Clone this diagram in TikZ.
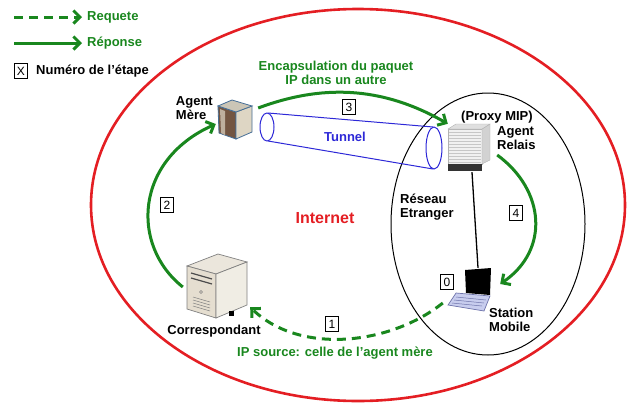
\documentclass[tikz,border=0pt]{standalone}
\usepackage{fontspec}
\setmainfont{Liberation Sans}
\usetikzlibrary{arrows.meta}
\definecolor{vert}{RGB}{25,135,30}
\definecolor{rouge}{RGB}{228,30,35}
\definecolor{bleu}{RGB}{45,40,215}
\definecolor{brun}{RGB}{115,85,65}
\definecolor{beige}{RGB}{222,214,196}
\definecolor{ecran}{RGB}{200,205,238}
\definecolor{bord}{RGB}{70,110,150}
\definecolor{clavier}{RGB}{110,115,170}
\begin{document}
\begin{tikzpicture}[x=1pt,y=-1pt,
	fleche/.style={vert,line width=3pt,-{Straight Barb[length=6.5pt,width=13pt]}},
	requete/.style={fleche,dash pattern=on 9pt off 6pt},
	numbox/.style={draw,line width=0.9pt,inner sep=0pt,minimum width=13pt,minimum height=15pt,font=\fontsize{12}{12}\selectfont},
	lbl/.style={font=\fontsize{13}{14}\selectfont\bfseries,align=left,inner sep=0pt}]
	\useasboundingbox (0,0) rectangle (627,405);
	% zones
	\draw[rouge,line width=2.6pt] (358,205) ellipse [x radius=267,y radius=196];
	\draw[line width=1pt] (488,224) ellipse [x radius=97,y radius=131];
	% tunnel
	\draw[bleu,line width=1pt] (267,127) ellipse [x radius=7,y radius=14];
	\draw[bleu,line width=1pt] (434,148) ellipse [x radius=8,y radius=21];
	\draw[bleu,line width=1pt] (268,113)--(433,127) (268,141)--(433,169);
	\node[lbl,bleu] (tunnel) at (345,137) {Tunnel};
	% equipements
	\begin{scope}[every node/.style={inner sep=0pt}]
	\node[minimum width=34pt,minimum height=38pt] (mere) at (235,120){};
	\node[minimum width=42pt,minimum height=48pt] (relais) at (469,148){};
	\node[minimum width=44pt,minimum height=44pt] (mobile) at (469,290){};
	\node[minimum width=62pt,minimum height=66pt] (corresp) at (217,287){};
	\end{scope}
	% agent mere
	\filldraw[fill=brun,draw=bord,line width=0.8pt] (218,106)--(236,112)--(236,139)--(219,133)--cycle;
	\fill[beige!70!brun] (220,109)--(225,111)--(225,135)--(221,133)--cycle;
	\filldraw[fill=beige,draw=bord,line width=0.8pt] (236,112)--(252,106)--(252,132)--(236,139)--cycle;
	\filldraw[fill=beige!80!gray,draw=bord,line width=0.8pt] (218,106)--(232,100)--(252,106)--(236,112)--cycle;
	% agent relais
	\filldraw[fill=gray!12,draw=gray!60] (448,129) rectangle (482,164);
	\foreach \k in {132,135,...,162} \draw[gray!45,line width=0.5pt] (449,\k)--(481,\k);
	\filldraw[fill=gray!35,draw=gray!60] (482,129)--(490,124)--(490,160)--(482,164)--cycle;
	\filldraw[fill=gray!25,draw=gray!60] (448,129)--(456,124)--(490,124)--(482,129)--cycle;
	\fill[black!80] (448,164) rectangle (482,171);
	% station mobile
	\fill[black] (465,270)--(491,268)--(490,295)--(466,293)--cycle;
	\filldraw[fill=ecran,draw=clavier,line width=0.7pt] (456,293)--(490,296)--(484,311)--(448,305)--cycle;
	\foreach \k in {0,1,2} \draw[clavier,line width=0.5pt] (456-2*\k,297+3*\k)--(486-2*\k,300+3*\k);
	% correspondant
	\filldraw[fill=beige!60,draw=gray,line width=0.7pt] (187,266)--(218,254)--(247,262)--(216,274)--cycle;
	\filldraw[fill=beige!80!white,draw=gray,line width=0.7pt] (187,266)--(216,274)--(216,318)--(187,309)--cycle;
	\filldraw[fill=beige!45,draw=gray,line width=0.7pt] (216,274)--(247,262)--(247,305)--(216,318)--cycle;
	\foreach \k in {0,1} \draw[black!70,line width=1.2pt] (191,273+5*\k)--(212,279+5*\k);
	\draw[gray] (201,292) circle (1.5);
	\foreach \k in {0,1,2,3} \draw[gray,line width=0.5pt] (193,297+3*\k)--(210,302+3*\k);
	\fill[black] (229,311) rectangle (234,316);
	% legende
	\coordinate (req1) at (14,17);
	\coordinate (req2) at (82,17);
	\coordinate (rep1) at (14,43);
	\coordinate (rep2) at (82,43);
	\draw[requete] (req1)--(req2);
	\draw[fleche] (rep1)--(rep2);
	\node[lbl,vert,anchor=west] (lgreq) at (87,17) {Requete};
	\node[lbl,vert,anchor=west] (lgrep) at (87,43) {Réponse};
	\node[numbox] (lgnum) at (21,71) {X};
	\node[lbl,anchor=west] (lgetape) at (36,71) {Numéro de l'étape};
	% textes
	\node[lbl,anchor=east] (lblmere) at (213,108) {Agent\\Mère};
	\node[lbl] (lblproxy) at (497,117) {(Proxy MIP)};
	\node[lbl,anchor=west] (lblrelais) at (497,138) {Agent\\Relais};
	\node[lbl,anchor=west] (lblreseau) at (400,207) {Réseau\\Etranger};
	\node[lbl,anchor=west] (lblmobile) at (489,320) {Station\\Mobile};
	\node[lbl] (lblcorresp) at (214,331) {Correspondant};
	\node[lbl,rouge,font=\fontsize{16}{16}\selectfont\bfseries] (internet) at (325,218) {Internet};
	\node[lbl,vert,align=center] (encaps) at (336,73) {Encapsulation du paquet\\IP dans un autre};
	\node[lbl,vert] (ipsource) at (335,353) {IP source: celle de l'agent mère};
	% etapes
	\draw[fleche] ([xshift=-3pt]corresp.west) .. controls (130,245) and (135,160) .. ([xshift=-2pt,yshift=-4pt]mere.west);
	\draw[fleche] ([xshift=6pt,yshift=12pt]mere.east) .. controls (320,85) and (380,85) .. (relais.north west);
	\draw[fleche] ([xshift=7pt,yshift=-7pt]relais.east) .. controls (545,190) and (550,250) .. ([xshift=9pt,yshift=6pt]mobile.east);
	\draw[requete] ([xshift=-4pt,yshift=-13pt]mobile.west) .. controls (390,345) and (300,355) .. ([xshift=2pt,yshift=13pt]corresp.south east);
	\draw[line width=1.3pt] ([xshift=3pt]relais.south)--([xshift=9pt]mobile.north);
	\foreach \n/\x/\y in {0/447/282,1/332/324,2/167/205,3/349/107,4/516/213}
	\node[numbox,fill=white] (num\n) at (\x,\y) {\n};
\end{tikzpicture}
\end{document}
